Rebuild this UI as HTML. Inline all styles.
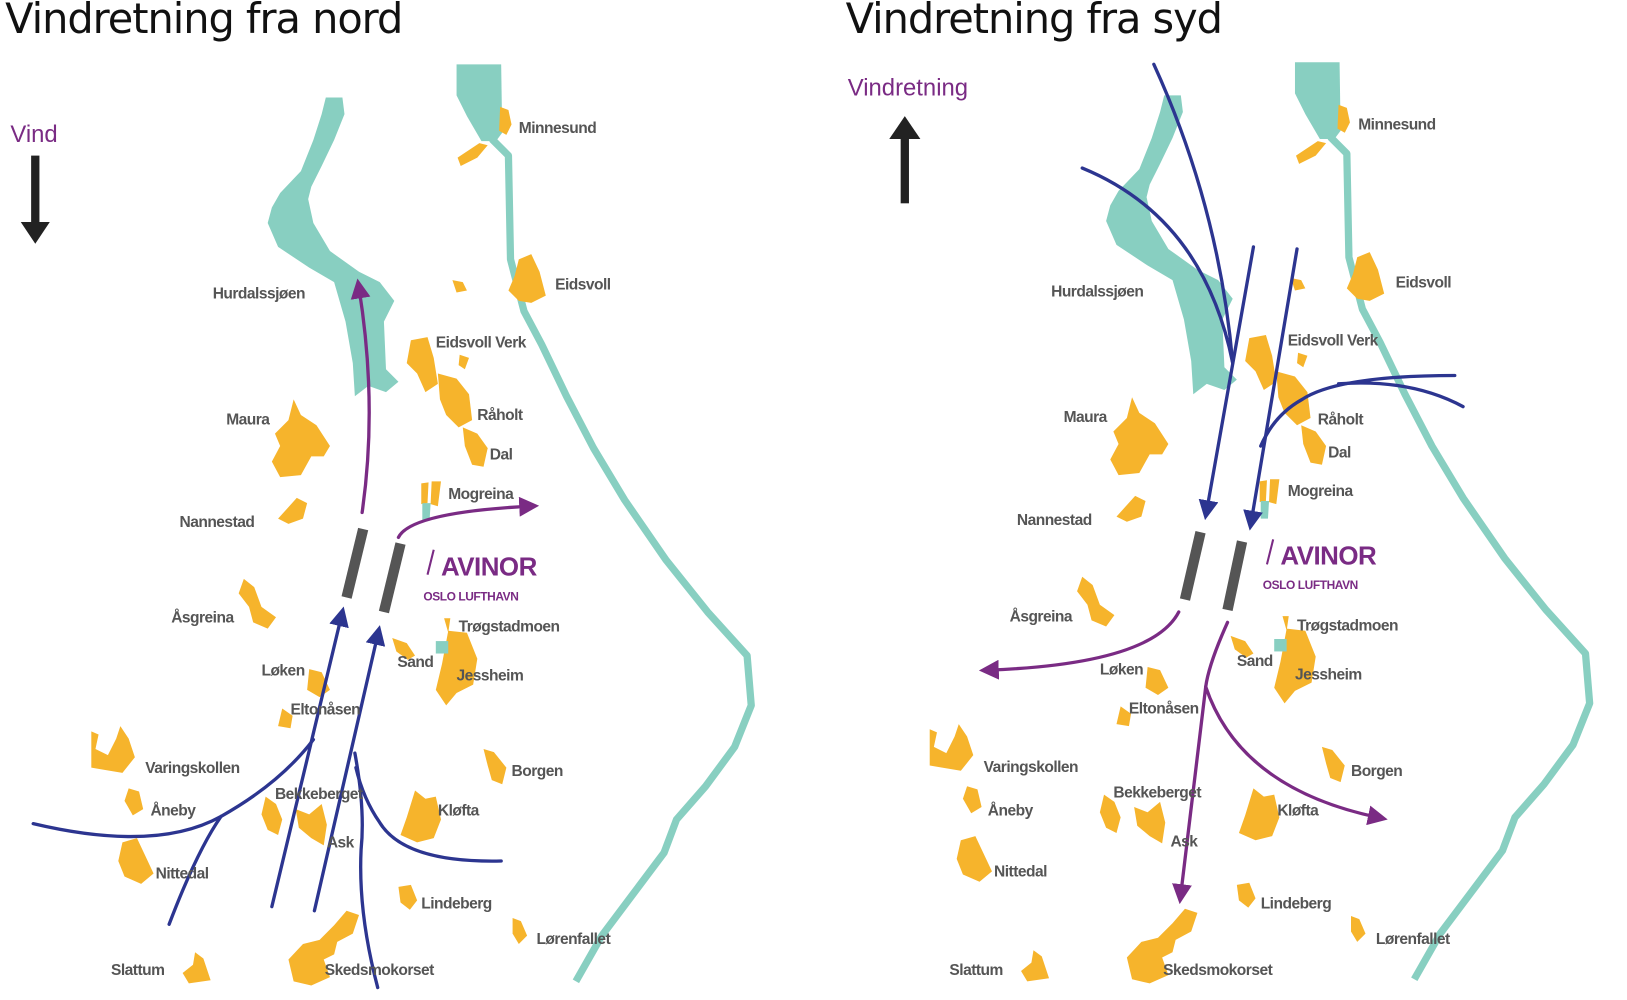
<!DOCTYPE html>
<html><head><meta charset="utf-8"><style>
html,body{margin:0;padding:0;background:#fff;width:1627px;height:1000px;overflow:hidden}
svg{display:block}
.l{font-family:"Liberation Sans",sans-serif;font-weight:bold;font-size:15px;fill:#555;letter-spacing:-0.5px}
.t{font-family:"DejaVu Sans","Liberation Sans",sans-serif;font-size:40px;fill:#111;font-weight:normal;letter-spacing:-1px}
.y{fill:#f6b42c}
.w{fill:#88cfc1}
.b{fill:none;stroke:#2c3590;stroke-width:3.2;stroke-linecap:round}
.p{fill:none;stroke:#7a2b84;stroke-width:3.2;stroke-linecap:round}
</style></head><body>
<svg width="1627" height="1000" viewBox="0 0 1568 964" preserveAspectRatio="none">
<defs>
<marker id="ab" markerWidth="6" markerHeight="6" refX="3" refY="3" orient="auto" markerUnits="strokeWidth"><path d="M0,0 L6,3 L0,6 z" fill="#2c3590"/></marker>
<marker id="ap" markerWidth="6" markerHeight="6" refX="3" refY="3" orient="auto" markerUnits="strokeWidth"><path d="M0,0 L6,3 L0,6 z" fill="#7a2b84"/></marker>
<g id="map">
<path class="w" d="M314,94 L330,94 L332,110 L322,135 L310,160 L300,180 L297,192 L302,215 L318,242 L346,262 L366,272 L380,290 L370,310 L372,356 L384,368 L372,378 L355,372 L342,382 L340,350 L333,310 L322,272 L298,258 L268,238 L258,215 L262,200 L270,186 L290,165 L302,135 L310,110 Z"/>
<path class="w" d="M440,62 L483,62 L484,128 L478,136 L464,136 L450,112 L440,92 Z"/>
<path d="M474,134 L490,150 L492,250 L505,300 L522,332 L546,382 L572,432 L602,482 L642,540 L682,590 L720,632 L724,680 L708,720 L680,758 L652,790 L640,822 L610,862 L580,902 L555,946" fill="none" stroke="#88cfc1" stroke-width="7" stroke-linejoin="round"/>
<g class="y">
<path d="M482,103 L490,106 L493,120 L488,130 L481,126 Z"/>
<path d="M462,138 L470,140 L460,152 L444,160 L441,152 Z"/>
<path d="M500,250 L512,245 L520,262 L526,285 L512,292 L500,290 L490,280 L496,266 Z"/>
<path d="M436,270 L446,272 L450,280 L440,282 Z"/>
<path d="M396,328 L412,325 L418,345 L422,370 L410,378 L402,360 L392,350 Z"/>
<path d="M443,342 L452,345 L448,356 L442,352 Z"/>
<path d="M422,360 L440,365 L452,380 L455,405 L442,412 L430,400 L424,385 Z"/>
<path d="M446,412 L460,418 L470,432 L466,450 L455,448 L448,430 Z"/>
<path d="M283,385 L290,400 L305,410 L318,430 L312,440 L300,440 L290,458 L270,460 L262,445 L270,430 L265,418 L278,405 Z"/>
<path d="M406,466 L413,465 L412,485 L406,486 Z M416,464 L425,464 L422,488 L415,486 Z"/>
<path class="w" d="M407,485 L415,485 L414,502 L407,502 Z"/>
<path d="M286,480 L296,485 L292,500 L278,505 L268,500 Z"/>
<path d="M235,558 L245,566 L252,585 L266,595 L258,606 L244,600 L240,585 L230,572 Z"/>
<path d="M428,596 L434,596 L432,610 Z"/>
<path d="M378,615 L392,620 L400,632 L393,636 L382,628 Z"/>
<path d="M432,608 L450,610 L460,635 L456,660 L440,668 L430,680 L420,665 L426,640 Z"/>
<path class="w" d="M420,618 L432,618 L432,630 L420,630 Z"/>
<path d="M298,645 L310,648 L318,665 L308,672 L296,665 Z"/>
<path d="M272,683 L282,690 L280,702 L268,700 Z"/>
<path d="M88,705 L95,708 L92,722 L104,728 L112,712 L116,700 L124,712 L130,730 L118,745 L100,742 L88,740 Z"/>
<path d="M124,760 L134,763 L138,780 L128,786 L120,772 Z"/>
<path d="M118,812 L132,808 L140,825 L148,842 L136,852 L120,845 L114,830 Z"/>
<path d="M256,768 L266,775 L272,790 L268,805 L258,800 L252,785 Z"/>
<path d="M285,780 L298,785 L310,775 L315,795 L312,815 L300,808 L288,798 Z"/>
<path d="M400,762 L410,770 L420,768 L425,790 L418,808 L402,812 L386,805 L392,788 Z"/>
<path d="M466,722 L476,725 L488,740 L484,756 L474,752 L470,738 Z"/>
<path d="M384,855 L396,853 L402,868 L395,877 L386,870 Z"/>
<path d="M494,885 L502,888 L508,902 L500,910 L494,900 Z"/>
<path d="M188,918 L196,924 L203,945 L182,948 L176,938 L186,930 Z"/>
<path d="M334,878 L346,882 L340,900 L325,908 L322,920 L312,925 L318,942 L300,950 L283,946 L278,925 L292,910 L308,906 L322,892 Z"/>
</g>
</g>
</defs>

<text class="t" x="5" y="32">Vindretning fra nord</text>
<text class="t" x="815" y="32">Vindretning fra syd</text>

<use href="#map"/>
<use href="#map" transform="translate(808,-2)"/>

<!-- LEFT -->
<text x="10" y="137" font-family="Liberation Sans,sans-serif" font-size="23" fill="#7a2b84">Vind</text>
<rect x="30" y="150" width="8" height="66" fill="#222"/>
<path d="M20,214 L48,214 L34,235 Z" fill="#222"/>
<line x1="350" y1="510" x2="334" y2="576" stroke="#555" stroke-width="10"/>
<line x1="386" y1="524" x2="370" y2="590" stroke="#555" stroke-width="10"/>
<path class="p" d="M349,494 Q364,390 346,278" marker-end="url(#ap)"/>
<path class="p" d="M384,518 Q396,494 510,488" marker-end="url(#ap)"/>
<path class="b" d="M262,874 L329,594" marker-end="url(#ab)"/>
<path class="b" d="M303,878 L364,612" marker-end="url(#ab)"/>
<path class="b" d="M32,794 Q150,822 213,787 Q270,755 302,713"/>
<path class="b" d="M163,891 Q190,820 213,787"/>
<path class="b" d="M364,952 Q345,880 348,819 Q352,780 342,726"/>
<path class="b" d="M483,830 Q390,832 366,793 Q350,770 343,740"/>
<text x="425" y="555" font-family="Liberation Sans,sans-serif" font-weight="bold" font-size="25" fill="#7a2b84" letter-spacing="-0.5">AVINOR</text>
<line x1="418" y1="530" x2="412" y2="554" stroke="#7a2b84" stroke-width="2"/>
<text x="408" y="579" font-family="Liberation Sans,sans-serif" font-weight="bold" font-size="11.5" fill="#7a2b84" letter-spacing="-0.4">OSLO LUFTHAVN</text>
<g class="l">
<text x="500" y="128">Minnesund</text><text x="205" y="288">Hurdalssjøen</text><text x="535" y="279">Eidsvoll</text>
<text x="420" y="335">Eidsvoll Verk</text><text x="460" y="405">Råholt</text><text x="472" y="443">Dal</text>
<text x="218" y="409">Maura</text><text x="432" y="481">Mogreina</text><text x="173" y="508">Nannestad</text>
<text x="165" y="600">Åsgreina</text><text x="442" y="609">Trøgstadmoen</text><text x="383" y="643">Sand</text>
<text x="440" y="656">Jessheim</text><text x="252" y="651">Løken</text><text x="280" y="689">Eltonåsen</text>
<text x="140" y="745">Varingskollen</text><text x="145" y="786">Åneby</text><text x="265" y="770">Bekkeberget</text>
<text x="422" y="786">Kløfta</text><text x="493" y="748">Borgen</text><text x="315" y="817">Ask</text>
<text x="150" y="847">Nittedal</text><text x="406" y="876">Lindeberg</text><text x="517" y="910">Lørenfallet</text>
<text x="107" y="940">Slattum</text><text x="313" y="940">Skedsmokorset</text>
</g>

<!-- RIGHT -->
<text x="817" y="92" font-family="Liberation Sans,sans-serif" font-size="23" fill="#7a2b84">Vindretning</text>
<rect x="868" y="132" width="8" height="64" fill="#222"/>
<path d="M857,134 L887,134 L872,112 Z" fill="#222"/>
<line x1="1157" y1="513" x2="1142" y2="578" stroke="#555" stroke-width="10"/>
<line x1="1197" y1="522" x2="1183" y2="588" stroke="#555" stroke-width="10"/>
<path class="b" d="M1112,62 Q1175,200 1188,350"/>
<path class="b" d="M1043,162 Q1160,210 1188,350"/>
<path class="b" d="M1208,238 L1163,492" marker-end="url(#ab)"/>
<path class="b" d="M1250,240 L1206,502" marker-end="url(#ab)"/>
<path class="b" d="M1402,362 Q1290,362 1255,385 Q1228,400 1215,430"/>
<path class="b" d="M1410,392 Q1360,365 1290,370"/>
<path class="p" d="M1136,590 Q1110,640 953,646" marker-end="url(#ap)"/>
<path class="p" d="M1183,600 Q1165,640 1162,662 Q1150,760 1138,862" marker-end="url(#ap)"/>
<path class="p" d="M1162,662 Q1195,760 1328,788" marker-end="url(#ap)"/>
<text x="1234" y="544" font-family="Liberation Sans,sans-serif" font-weight="bold" font-size="25" fill="#7a2b84" letter-spacing="-0.5">AVINOR</text>
<line x1="1227" y1="520" x2="1221" y2="544" stroke="#7a2b84" stroke-width="2"/>
<text x="1217" y="568" font-family="Liberation Sans,sans-serif" font-weight="bold" font-size="11.5" fill="#7a2b84" letter-spacing="-0.4">OSLO LUFTHAVN</text>
<g class="l">
<text x="1309" y="125">Minnesund</text><text x="1013" y="286">Hurdalssjøen</text><text x="1345" y="277">Eidsvoll</text>
<text x="1241" y="333">Eidsvoll Verk</text><text x="1270" y="409">Råholt</text><text x="1280" y="441">Dal</text>
<text x="1025" y="407">Maura</text><text x="1241" y="478">Mogreina</text><text x="980" y="506">Nannestad</text>
<text x="973" y="599">Åsgreina</text><text x="1250" y="608">Trøgstadmoen</text><text x="1192" y="642">Sand</text>
<text x="1248" y="655">Jessheim</text><text x="1060" y="650">Løken</text><text x="1088" y="688">Eltonåsen</text>
<text x="948" y="744">Varingskollen</text><text x="952" y="786">Åneby</text><text x="1073" y="769">Bekkeberget</text>
<text x="1231" y="786">Kløfta</text><text x="1302" y="748">Borgen</text><text x="1128" y="816">Ask</text>
<text x="958" y="845">Nittedal</text><text x="1215" y="876">Lindeberg</text><text x="1326" y="910">Lørenfallet</text>
<text x="915" y="940">Slattum</text><text x="1121" y="940">Skedsmokorset</text>
</g>
</svg>
</body></html>
